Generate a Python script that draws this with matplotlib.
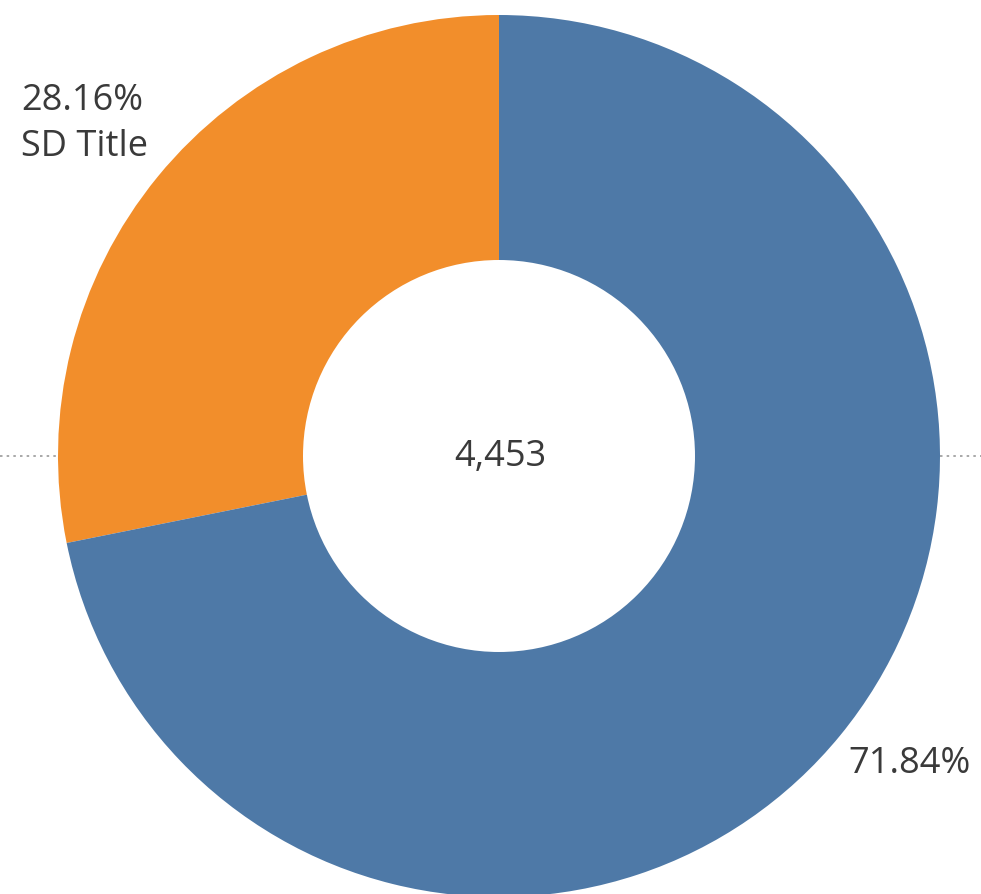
import matplotlib
matplotlib.use("Agg")
import matplotlib.pyplot as plt
from matplotlib.patches import Circle

# segment counts (orange first, drawn counter-clockwise from 12 o'clock)
labels = ["SD Title", ""]
counts = [1254, 3199]
colors = ["#f28e2b", "#4e79a7"]

total = sum(counts)
pcts = [c / total * 100 for c in counts]

W, H = 981, 895
fig = plt.figure(figsize=(W / 100, H / 100), dpi=100)
ax = fig.add_axes([0, 0, 1, 1])

cx, cy = 499, 438
r_out, r_in = 441, 196

# dotted reference line through the middle
ax.axhline(cy, color="#9a9a9a", linestyle=(0, (1.5, 2.5)), linewidth=1.2, zorder=0)

ax.pie(counts, colors=colors, startangle=90, counterclock=True,
       center=(cx, cy), radius=r_out, frame=True,
       wedgeprops=dict(linewidth=0, zorder=2))
ax.add_patch(Circle((cx, cy), r_in, facecolor="white", edgecolor="none", zorder=3))
ax.set_xlim(0, W)
ax.set_ylim(0, H)
ax.axis("off")

font = "Open Sans"
txt = "#3a3a3a"
ax.text(21, H - 124, f"{pcts[0]:.2f}%\n{labels[0]}", ha="left", va="center",
        fontsize=26, color=txt, family=font, linespacing=1.38, zorder=4)
ax.text(cx + 1, cy, f"{total:,}", ha="center", va="center",
        fontsize=26, color=txt, family=font, zorder=4)
ax.text(848, H - 764, f"{pcts[1]:.2f}%", ha="left", va="center",
        fontsize=26, color=txt, family=font, zorder=4)

fig.savefig("out.png", dpi=100, facecolor="white")
